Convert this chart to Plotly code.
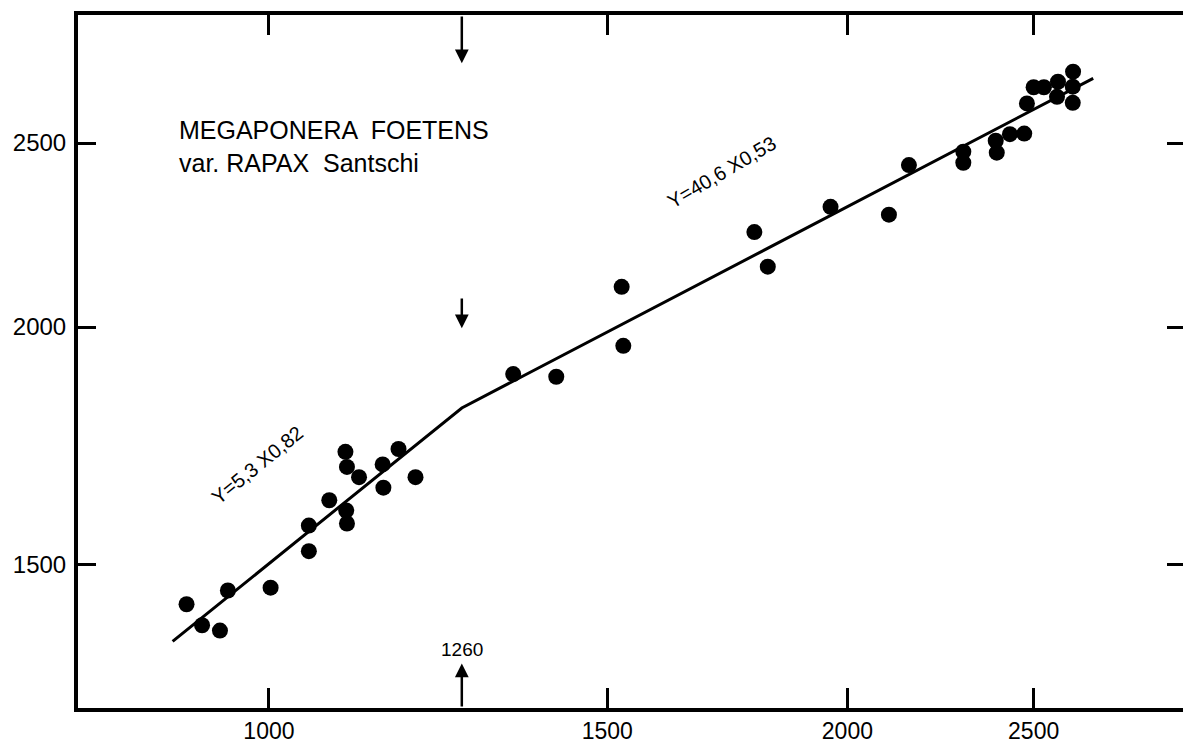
import math
import plotly.graph_objects as go

# ---- data (log-log plot) ----
x_vals = [906, 923, 943, 952, 1002, 1049, 1049, 1075, 1097, 1098, 1096, 1098, 1114,
          1146, 1147, 1168, 1192, 1340, 1411, 1526, 1529, 1789, 1818, 1960, 2102,
          2153, 2298, 2298, 2389, 2392, 2430, 2472, 2480, 2500, 2531, 2574, 2571,
          2621, 2620, 2620]
y_vals = [1429, 1393, 1384, 1453, 1458, 1572, 1524, 1621, 1601, 1576, 1719, 1688, 1667,
          1693, 1646, 1725, 1667, 1889, 1883, 2100, 1955, 2244, 2152, 2314, 2292,
          2434, 2474, 2441, 2507, 2471, 2527, 2529, 2623, 2675, 2675, 2693, 2644,
          2726, 2677, 2625]

# fitted broken line (two power laws, break at 1260)
fit_x = [891, 1260, 2685]
fit_y = [1366, 1813, 2704]

x_ticks = [1000, 1500, 2000, 2500]
y_ticks = [1500, 2000, 2500]

x_range = [795.5, 2990]
y_range = [1260, 2920]

break_x = 1260
arrow_top = [2920, 2754]     # tail, head
arrow_mid = [2074, 1997]
arrow_bot = [1260, 1330]
label_1260_y = 1353

title_lines = ["MEGAPONERA  FOETENS", "var. RAPAX  Santschi"]
title_pos = [(896, 2539), (896, 2440)]
eq1 = ("Y=5,3 X0,82", 986, 1692, -39)
eq2 = ("Y=40,6 X0,53", 1721, 2413, -30.5)

L = math.log10
FONT = "Liberation Sans"

fig = go.Figure()
fig.add_trace(go.Scatter(x=fit_x, y=fit_y, mode="lines",
                         line=dict(color="black", width=3), showlegend=False,
                         hoverinfo="skip"))
fig.add_trace(go.Scatter(x=x_vals, y=y_vals, mode="markers",
                         marker=dict(color="black", size=16, line=dict(width=0)),
                         showlegend=False))

ann = []
for a, b in [arrow_top, arrow_mid, arrow_bot]:
    ann.append(dict(x=L(break_x), y=L(b), ax=L(break_x), ay=L(a),
                    xref="x", yref="y", axref="x", ayref="y",
                    showarrow=True, arrowhead=2, arrowsize=1.1, arrowwidth=2.5,
                    arrowcolor="black", text=""))
ann.append(dict(x=L(break_x), y=L(label_1260_y), xref="x", yref="y", text="1260",
                showarrow=False, font=dict(family=FONT, size=19, color="black")))
for t, (px, py) in zip(title_lines, title_pos):
    ann.append(dict(x=L(px), y=L(py), xref="x", yref="y", text=t, xanchor="left",
                    showarrow=False, font=dict(family=FONT, size=25, color="black")))
for t, px, py, ang in [eq1, eq2]:
    ann.append(dict(x=L(px), y=L(py), xref="x", yref="y", text=t, textangle=ang,
                    showarrow=False, font=dict(family=FONT, size=20, color="black")))

fig.update_layout(
    width=1183, height=744,
    margin=dict(l=78, r=0, t=15, b=36, autoexpand=False),
    paper_bgcolor="white", plot_bgcolor="white",
    showlegend=False,
    annotations=ann,
    xaxis=dict(type="log", range=[L(x_range[0]), L(x_range[1])],
               tickvals=x_ticks, ticktext=[str(v) for v in x_ticks],
               ticks="inside", ticklen=20, tickwidth=2.5, tickcolor="black",
               showline=True, linewidth=3.5, linecolor="black", mirror="ticks",
               showgrid=False, zeroline=False,
               tickfont=dict(family=FONT, size=23, color="black"),
               automargin=False, ticklabelstandoff=0),
    yaxis=dict(type="log", range=[L(y_range[0]), L(y_range[1])],
               tickvals=y_ticks, ticktext=[str(v) for v in y_ticks],
               ticks="inside", ticklen=18, tickwidth=2.5, tickcolor="black",
               showline=True, linewidth=4, linecolor="black", mirror=False,
               showgrid=False, zeroline=False,
               tickfont=dict(family=FONT, size=24, color="black"),
               automargin=False, ticklabelstandoff=3),
    yaxis2=dict(type="log", range=[L(y_range[0]), L(y_range[1])], overlaying="y",
                side="right", tickvals=y_ticks, ticks="inside", ticklen=16,
                tickwidth=2.5, tickcolor="black", showticklabels=False,
                showline=False, showgrid=False, zeroline=False, automargin=False),
)
fig.add_trace(go.Scatter(x=[fit_x[0]], y=[fit_y[0]], yaxis="y2", mode="markers",
                         marker=dict(opacity=0), showlegend=False, hoverinfo="skip"))

fig.write_html("out.html")
